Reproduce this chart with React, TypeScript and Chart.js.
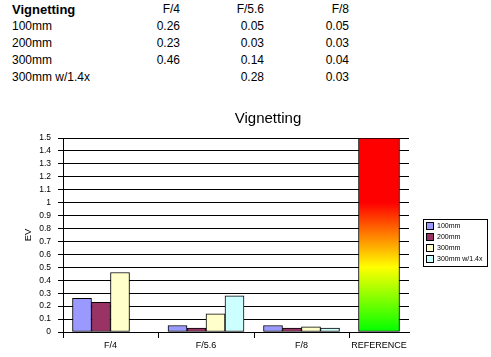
import React, { useEffect, useRef } from 'react';
import { Chart, registerables, CategoryScale } from 'chart.js';

// ---------- data ----------
const CHART_TITLE = 'Vignetting';
const TABLE_HEADER = 'Vignetting';
const APERTURES = ['F/4', 'F/5.6', 'F/8'];
const REFERENCE_LABEL = 'REFERENCE';
const LENSES = ['100mm', '200mm', '300mm', '300mm w/1.4x'];
const EV_100MM = [0.26, 0.05, 0.05];
const EV_200MM = [0.23, 0.03, 0.03];
const EV_300MM = [0.46, 0.14, 0.04];
const EV_300MM_TC = [null, 0.28, 0.03];
const REFERENCE_VALUE = 1.5;
const Y_MIN = 0;
const Y_MAX = 1.5;
const Y_STEP = 0.1;
const Y_TITLE = 'EV';

// ---------- styles ----------
const FONT = '"Liberation Sans", Arial, Helvetica, sans-serif';
const SERIES_COLORS = ['#9999ff', '#993366', '#ffffcc', '#ccffff'];
const CATEGORY_WEIGHTS = [95, 96, 95, 60];

function weightedDecimal(v: number, n: number): number {
  const w = CATEGORY_WEIGHTS.slice(0, n);
  const total = w.reduce((a, b) => a + b, 0);
  let i = Math.floor(v + 0.5);
  if (i < 0) i = 0;
  if (i > n - 1) i = n - 1;
  const frac = v + 0.5 - i;
  let acc = 0;
  for (let k = 0; k < i; k++) acc += w[k];
  return (acc + frac * w[i]) / total;
}

class WeightedCategoryScale extends (CategoryScale as any) {
  static id = 'weightedCategory';
  static defaults = (CategoryScale as any).defaults;
  getPixelForValue(value: any) {
    if (typeof value !== 'number') value = (this as any).parse(value);
    if (value === null || value === undefined || Number.isNaN(value)) return NaN;
    const n = (this as any).getLabels().length;
    return (this as any).getPixelForDecimal(weightedDecimal(value, n));
  }
}

Chart.register(...registerables, WeightedCategoryScale as any);

const xTickMarksPlugin = {
  id: 'xTickMarks',
  afterDraw(chart: any) {
    const { ctx, chartArea } = chart;
    const xs = chart.scales.x;
    const n = xs.getLabels().length;
    ctx.save();
    ctx.strokeStyle = '#000';
    ctx.lineWidth = 1;
    for (let i = 0; i < n; i++) {
      const x = Math.round(xs.getPixelForValue(i - 0.5)) + 0.5;
      ctx.beginPath();
      ctx.moveTo(x, chartArea.bottom);
      ctx.lineTo(x, chartArea.bottom + 6);
      ctx.stroke();
    }
    ctx.restore();
  },
};

const boxLegendPlugin = {
  id: 'boxLegend',
  afterDraw(chart: any) {
    const { ctx, chartArea } = chart;
    const items = chart.data.datasets.filter((d: any) => d.label !== REFERENCE_LABEL);
    const rowH = 11;
    const sw = 7;
    const boxW = 64;
    const boxH = items.length * rowH + 3;
    const left = Math.round(chartArea.right + 14);
    const top = Math.round((chartArea.top + chartArea.bottom) / 2 - boxH / 2 + 7);
    ctx.save();
    ctx.fillStyle = '#fff';
    ctx.fillRect(left, top, boxW, boxH);
    ctx.strokeStyle = '#000';
    ctx.lineWidth = 1;
    ctx.strokeRect(left + 0.5, top + 0.5, boxW, boxH);
    ctx.font = `7px ${FONT}`;
    ctx.textBaseline = 'middle';
    ctx.textAlign = 'left';
    items.forEach((d: any, i: number) => {
      const cy = top + 7 + rowH * i;
      const sx = left + 3;
      const sy = cy - 4;
      ctx.fillStyle = d.backgroundColor;
      ctx.fillRect(sx, sy, sw, sw);
      ctx.strokeRect(sx + 0.5, sy + 0.5, sw, sw);
      ctx.fillStyle = '#000';
      ctx.fillText(d.label, left + 14, cy + 0.5);
    });
    ctx.restore();
  },
};

const CANVAS_W = 536;
const CANVAS_H = 257;

function VignettingChart() {
  const ref = useRef<HTMLCanvasElement>(null);
  useEffect(() => {
    const canvas = ref.current;
    if (!canvas) return;
    const labels = [...APERTURES, REFERENCE_LABEL];
    const seriesValues = [EV_100MM, EV_200MM, EV_300MM, EV_300MM_TC];
    const datasets: any[] = LENSES.map((lens, i) => ({
      label: lens,
      data: [...seriesValues[i], null],
      backgroundColor: SERIES_COLORS[i],
      borderColor: '#000',
      borderWidth: 1,
      borderSkipped: false,
      barThickness: 19,
      xAxisID: 'x',
      yAxisID: 'y',
    }));
    datasets.push({
      label: REFERENCE_LABEL,
      data: labels.map((l) => (l === REFERENCE_LABEL ? REFERENCE_VALUE : null)),
      grouped: false,
      categoryPercentage: 1,
      barPercentage: 1,
      maxBarThickness: 41,
      borderColor: '#000',
      borderWidth: 1,
      borderSkipped: false,
      xAxisID: 'x',
      yAxisID: 'y',
      backgroundColor: (c: any) => {
        const chart = c.chart;
        if (!chart.chartArea) return '#ff0000';
        const ys = chart.scales.y;
        const g = chart.ctx.createLinearGradient(0, ys.getPixelForValue(Y_MIN), 0, ys.getPixelForValue(Y_MAX));
        g.addColorStop(0, '#00ff00');
        g.addColorStop(1 / 3, '#ffff00');
        g.addColorStop(2 / 3, '#ff0000');
        g.addColorStop(1, '#ff0000');
        return g;
      },
    });

    const chart = new Chart(canvas, {
      type: 'bar',
      data: { labels, datasets },
      plugins: [xTickMarksPlugin, boxLegendPlugin],
      options: {
        animation: false,
        responsive: false,
        events: [],
        layout: { padding: 0 },
        plugins: {
          legend: { display: false },
          tooltip: { enabled: false },
          title: {
            display: true,
            text: CHART_TITLE,
            color: '#000',
            font: { size: 15, family: FONT, weight: 'normal' },
            padding: { top: 10, bottom: 10 },
          },
        },
        scales: {
          x: {
            type: 'weightedCategory',
            offset: true,
            grid: { display: true, offset: true, drawOnChartArea: false, drawTicks: false },
            border: { display: true, color: '#000', width: 1 },
            ticks: { color: '#000', font: { size: 9, family: FONT }, padding: 8, maxRotation: 0, autoSkip: false },
            afterFit: (s: any) => { s.height = 25; },
          },
          y: {
            type: 'linear',
            position: 'left',
            min: Y_MIN,
            max: Y_MAX,
            ticks: {
              stepSize: Y_STEP,
              autoSkip: false,
              color: '#000',
              font: { size: 8.5, family: FONT },
              padding: 7,
              callback: (v: any) => String(Math.round(Number(v) * 10) / 10),
            },
            grid: { color: '#000', lineWidth: 1, drawTicks: true, tickLength: 5 },
            border: { display: true, color: '#000', width: 1 },
            title: {
              display: true,
              text: Y_TITLE,
              color: '#000',
              font: { size: 9.5, family: FONT },
              padding: { top: 23, bottom: 0 },
            },
            afterFit: (s: any) => { s.width = 63; },
          },
          y2: {
            type: 'linear',
            position: 'right',
            display: true,
            grid: { display: false },
            border: { display: false },
            ticks: { display: false },
            afterFit: (s: any) => { s.width = CANVAS_W - 409; },
          },
        },
      } as any,
    });
    return () => chart.destroy();
  }, []);
  return (
    <canvas
      ref={ref}
      width={CANVAS_W}
      height={CANVAS_H}
      style={{ position: 'absolute', left: 0, top: 100, width: CANVAS_W, height: CANVAS_H }}
    />
  );
}

const COLUMN_RIGHT_EDGES = [180, 264, 349];

function DataTable() {
  const rows = [EV_100MM, EV_200MM, EV_300MM, EV_300MM_TC];
  const rowStyle = (r: number): React.CSSProperties => ({
    position: 'absolute', left: 0, top: 1 + r * 17, width: 491, height: 17, lineHeight: '17px',
  });
  const cell = (x: number): React.CSSProperties => ({
    position: 'absolute', left: x - 80, width: 80, textAlign: 'right', whiteSpace: 'nowrap',
  });
  return (
    <div style={{ position: 'absolute', left: 0, top: 0, width: 491, height: 100, fontFamily: FONT, fontSize: 12, color: '#000' }}>
      <div style={rowStyle(0)}>
        <span style={{ position: 'absolute', left: 12, fontWeight: 'bold', fontSize: 13 }}>{TABLE_HEADER}</span>
        {APERTURES.map((a, j) => (
          <span key={a} style={cell(COLUMN_RIGHT_EDGES[j])}>{a}</span>
        ))}
      </div>
      {LENSES.map((lens, r) => (
        <div key={lens} style={rowStyle(r + 1)}>
          <span style={{ position: 'absolute', left: 12, whiteSpace: 'nowrap' }}>{lens}</span>
          {rows[r].map((v, j) => (
            <span key={j} style={cell(COLUMN_RIGHT_EDGES[j])}>{v === null ? '' : v.toFixed(2)}</span>
          ))}
        </div>
      ))}
    </div>
  );
}

export default function App() {
  return (
    <div style={{ position: 'absolute', left: 0, top: 0, width: 491, height: 357, overflow: 'hidden', background: '#fff' }}>
      <DataTable />
      <VignettingChart />
    </div>
  );
}
